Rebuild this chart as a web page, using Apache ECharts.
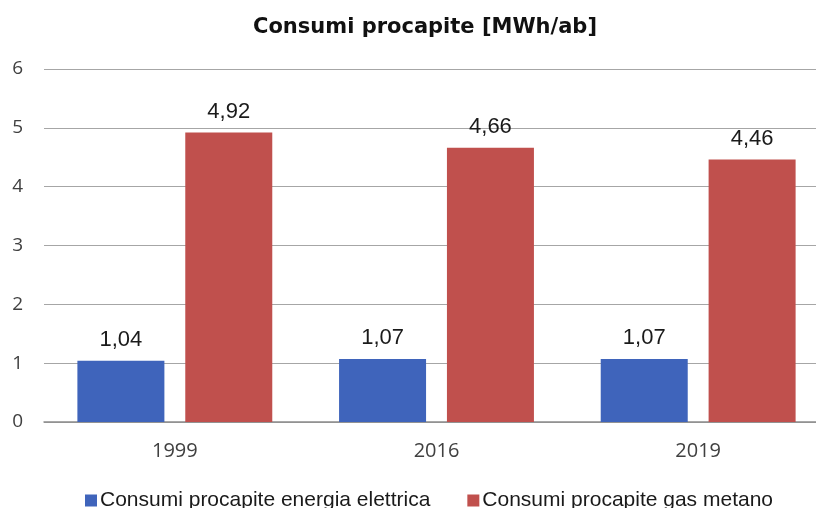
<!DOCTYPE html>
<html>
<head>
<meta charset="utf-8">
<script src="https://cdn.jsdelivr.net/npm/echarts@6/dist/echarts.min.js"></script>
<style>
  html, body { margin: 0; padding: 0; background: #fff; overflow: hidden; }
  #chart { width: 830px; height: 508px; }
</style>
</head>
<body>
<div id="chart"></div>
<script>
// Per-capita consumption (MWh per inhabitant) by year
const years = ['1999', '2016', '2019'];
const electricity = [1.04, 1.07, 1.07];
const methane = [4.92, 4.66, 4.46];
const seriesNames = ['Consumi procapite energia elettrica', 'Consumi procapite gas metano'];
const yTicks = { min: 0, max: 6, interval: 1 };

const fmtComma = v => v.toFixed(2).replace('.', ',');

const chart = echarts.init(document.getElementById('chart'), null, { renderer: 'canvas' });

const labelStyle = {
  show: true,
  position: 'top',
  distance: 10,
  fontFamily: 'Liberation Sans',
  fontSize: 22,
  color: '#1a1a1a',
  formatter: p => fmtComma(p.value)
};

chart.setOption({
  animation: false,
  title: {
    text: 'Consumi procapite [MWh/ab]',
    left: 420,
    textAlign: 'center',
    top: 12,
    textStyle: {
      fontFamily: 'DejaVu Sans',
      fontWeight: 'bold',
      fontSize: 21,
      color: '#111'
    }
  },
  legend: {
    bottom: -8,
    left: 80,
    itemWidth: 12,
    itemHeight: 12,
    itemGap: 37,
    icon: 'rect',
    textStyle: {
      fontFamily: 'Liberation Sans',
      fontSize: 21,
      color: '#1a1a1a',
      padding: [0, 0, 0, -2]
    },
    data: seriesNames
  },
  grid: { left: 44, top: 69, width: 785, height: 353 },
  xAxis: {
    type: 'category',
    data: years,
    axisLine: { lineStyle: { color: '#8c8c8c', width: 1.5 } },
    axisTick: { show: false },
    axisLabel: {
      margin: 19,
      fontFamily: 'Open Sans',
      fontSize: 20,
      color: '#404040'
    }
  },
  yAxis: {
    type: 'value',
    min: yTicks.min,
    max: yTicks.max,
    interval: yTicks.interval,
    axisLine: { show: false },
    axisTick: { show: false },
    splitLine: { lineStyle: { color: '#a6a6a6', width: 1.2 } },
    axisLabel: {
      margin: 21,
      fontFamily: 'Open Sans',
      fontSize: 19,
      color: '#404040'
    }
  },
  series: [
    {
      name: seriesNames[0],
      type: 'bar',
      data: electricity,
      barWidth: 87,
      barGap: '24%',
      itemStyle: { color: '#3f64bb' },
      label: labelStyle
    },
    {
      name: seriesNames[1],
      type: 'bar',
      data: methane,
      barWidth: 87,
      barGap: '24%',
      itemStyle: { color: '#c0504d' },
      label: labelStyle
    }
  ]
});
</script>
</body>
</html>
